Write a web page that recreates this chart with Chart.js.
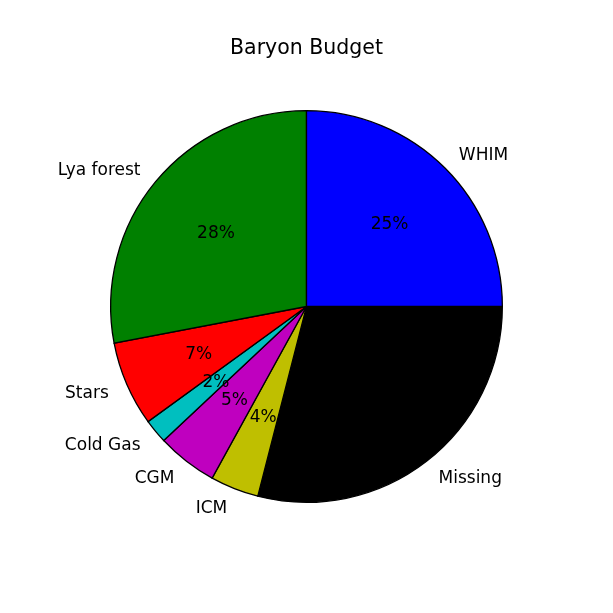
<!DOCTYPE html>
<html>
<head>
<meta charset="utf-8">
<script src="https://cdn.jsdelivr.net/npm/chart.js@4"></script>
<style>
  html, body { margin: 0; padding: 0; background: #fff; }
  #wrap { width: 613px; height: 613px; }
</style>
</head>
<body>
<div id="wrap"><canvas id="budgetChart" width="613" height="613"></canvas></div>
<script>
// slices, counterclockwise from 3 o'clock
const componentes = ["WHIM", "Lya forest", "Stars", "Cold Gas", "CGM", "ICM", "Missing"];
const porcentajes = [25, 28, 7, 2, 5, 4, 29];
const colores = ["#0000ff", "#008000", "#ff0000", "#00bfbf", "#bf00bf", "#bfbf00", "#000000"];

// chart.js goes clockwise, so feed the slices reversed and start at 3 o'clock
const etiquetas = componentes.slice().reverse();
const valores = porcentajes.slice().reverse();
const fondos = colores.slice().reverse();

const fuente = "'DejaVu Sans', sans-serif";

const etiquetasPlugin = {
  id: "etiquetasPie",
  afterDatasetsDraw(chart) {
    const ctx = chart.ctx;
    const meta = chart.getDatasetMeta(0);
    const total = valores.reduce((a, b) => a + b, 0);
    ctx.save();
    ctx.fillStyle = "#000";
    meta.data.forEach((arc, i) => {
      const { x, y, startAngle, endAngle, outerRadius } = arc.getProps(["x", "y", "startAngle", "endAngle", "outerRadius"], true);
      const mid = (startAngle + endAngle) / 2;
      const cx = Math.cos(mid), cy = Math.sin(mid);

      // nombre afuera
      ctx.font = "17px " + fuente;
      ctx.textBaseline = "middle";
      ctx.textAlign = cx > 0 ? "left" : "right";
      ctx.fillText(etiquetas[i], x + cx * outerRadius * 1.1, y + cy * outerRadius * 1.1 + 1.5);

      // porcentaje adentro
      ctx.textAlign = "center";
      const pct = Math.round(valores[i] / total * 100) + "%";
      ctx.fillText(pct, x + cx * outerRadius * 0.6, y + cy * outerRadius * 0.6 + 1.5);
    });
    ctx.restore();
  }
};

const ctx = document.getElementById("budgetChart").getContext("2d");
new Chart(ctx, {
  type: "pie",
  data: {
    labels: etiquetas,
    datasets: [{
      data: valores,
      backgroundColor: fondos,
      borderColor: "#000",
      borderWidth: 1.3,
      borderJoinStyle: "miter"
    }]
  },
  options: {
    responsive: false,
    animation: false,
    rotation: 90,
    layout: { padding: { left: 110, right: 110, top: 0, bottom: 110 } },
    plugins: {
      legend: { display: false },
      tooltip: { enabled: false },
      title: {
        display: true,
        text: "Baryon Budget",
        color: "#000",
        font: { family: fuente, size: 20.5, weight: "normal", lineHeight: 1.2 },
        padding: { top: 36, bottom: 49.4 }
      }
    }
  },
  plugins: [etiquetasPlugin]
});
</script>
</body>
</html>
